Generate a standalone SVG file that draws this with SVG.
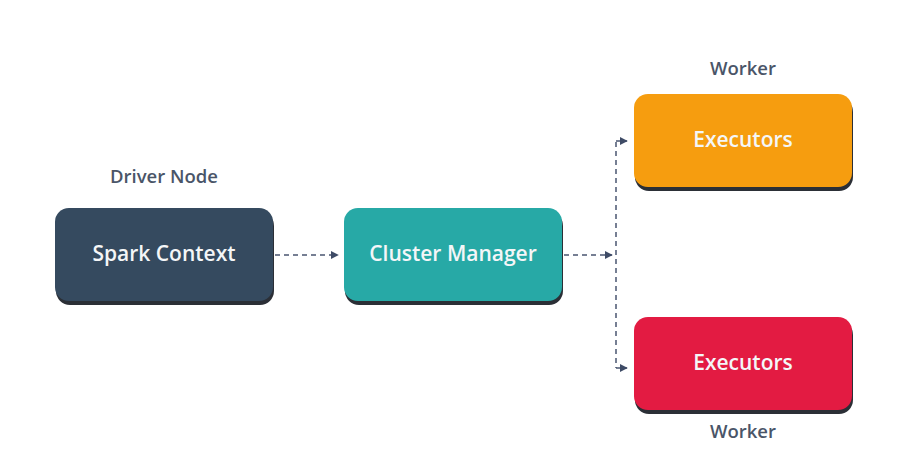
<svg xmlns="http://www.w3.org/2000/svg" width="921" height="466" viewBox="0 0 921 466">
<style>
.lbl{font-family:"Open Sans","Noto Sans","Liberation Sans",sans-serif;font-weight:600;font-size:18.5px;fill:#4a5568;text-anchor:middle}
.txt{font-family:"Open Sans","Noto Sans","Liberation Sans",sans-serif;font-weight:600;font-size:21px;fill:#f4f6f8;text-anchor:middle}
.shadow{fill:#2b2f36}
.conn{stroke:#4a5670;stroke-width:1.5;stroke-dasharray:5 4;fill:none}
</style>
<defs>
<marker id="ah" viewBox="0 0 10 10" refX="9" refY="5" markerWidth="8" markerHeight="8" markerUnits="userSpaceOnUse" orient="auto">
<path d="M0,0 L10,5 L0,10 z" fill="#3e4b66"/>
</marker>
</defs>
<rect width="921" height="466" fill="#ffffff"/>
<g id="connectors">
<line class="conn" x1="275" y1="255" x2="338" y2="255" marker-end="url(#ah)"/>
<line class="conn" x1="564" y1="255" x2="612" y2="255" marker-end="url(#ah)"/>
<line class="conn" x1="616" y1="142" x2="616" y2="368"/>
<line class="conn" x1="616" y1="141" x2="627" y2="141" stroke-dasharray="none" marker-end="url(#ah)"/>
<line class="conn" x1="616" y1="368" x2="627" y2="368" stroke-dasharray="none" marker-end="url(#ah)"/>
</g>
<g id="driver">
<text class="lbl" x="164" y="183">Driver Node</text>
<rect class="shadow" x="56" y="212" width="218" height="93" rx="14"/>
<rect x="55" y="208" width="218" height="93" rx="14" fill="#354a5f"/>
<text class="txt" x="164" y="261">Spark Context</text>
</g>
<g id="cluster">
<rect class="shadow" x="345" y="212" width="218" height="93" rx="14"/>
<rect x="344" y="208" width="218" height="93" rx="14" fill="#27a9a6"/>
<text class="txt" x="453" y="261">Cluster Manager</text>
</g>
<g id="worker1">
<text class="lbl" x="743" y="75">Worker</text>
<rect class="shadow" x="635" y="98" width="218" height="93" rx="14"/>
<rect x="634" y="94" width="218" height="93" rx="14" fill="#f69d0f"/>
<text class="txt" x="743" y="147">Executors</text>
</g>
<g id="worker2">
<rect class="shadow" x="635" y="321" width="218" height="93" rx="14"/>
<rect x="634" y="317" width="218" height="93" rx="14" fill="#e31b42"/>
<text class="txt" x="743" y="370">Executors</text>
<text class="lbl" x="743" y="438">Worker</text>
</g>
</svg>
